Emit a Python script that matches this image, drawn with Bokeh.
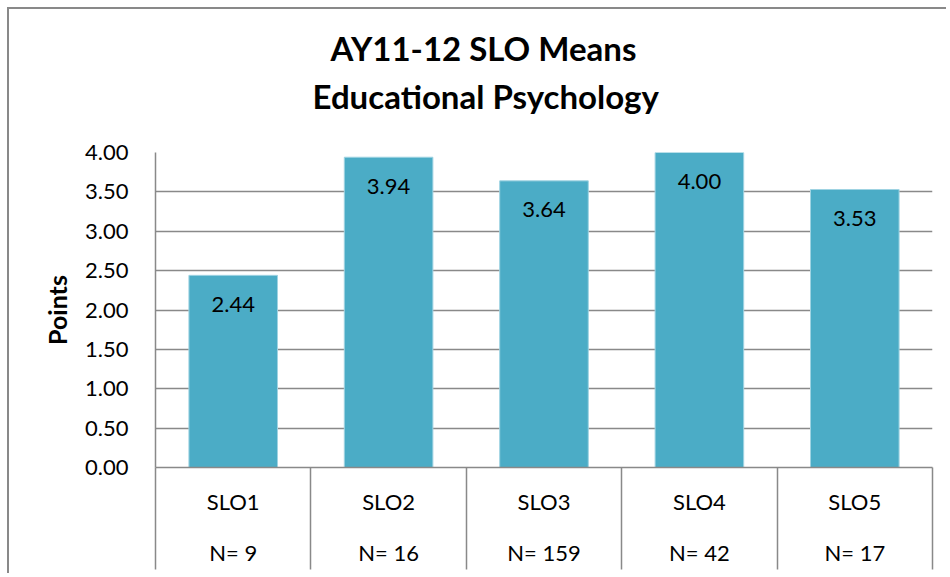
from bokeh.plotting import figure
from bokeh.models import Range1d, FixedTicker, Title, ColumnDataSource
from bokeh.core.properties import value
from bokeh.embed import file_html
from bokeh.resources import INLINE

# ---- data ----
categories = ["SLO1", "SLO2", "SLO3", "SLO4", "SLO5"]
means = [2.44, 3.94, 3.64, 4.00, 3.53]
counts = [9, 16, 159, 42, 17]
y_ticks = [0.0, 0.5, 1.0, 1.5, 2.0, 2.5, 3.0, 3.5, 4.0]
y_tick_labels = ["0.00", "0.50", "1.00", "1.50", "2.00", "2.50", "3.00", "3.50", "4.00"]
title_line1 = "AY11-12 SLO Means"
title_line2 = "Educational Psychology"
y_label = "Points"

FONT = "Lato"
GRAY = "#898989"
BAR = "#4BACC6"

positions = [i + 0.5 for i in range(len(categories))]
boundaries = list(range(len(categories) + 1))

src = ColumnDataSource(dict(
    x=positions, top=means,
    label=[f"{m:.2f}" for m in means],
))

p = figure(width=939, height=566, output_backend="svg", toolbar_location=None,
           x_range=Range1d(0, len(categories)), y_range=Range1d(0, 4),
           title=title_line1,
           min_border_left=146, min_border_right=16, min_border_bottom=108,
           min_border_top=143)
p.styles = {"margin-left": "7px", "margin-top": "7px",
            "border-left": f"2px solid {GRAY}", "border-top": f"2px solid {GRAY}"}
p.outline_line_color = None
p.background_fill_color = "white"
p.border_fill_color = "white"

# titles: p.title is the upper line, the added one sits next to the frame;
# left-aligned with offsets so both are centred on the whole chart box
p.title.text_font = FONT
p.title.text_font_size = "33px"
p.title.text_font_style = "bold"
p.title.text_color = "black"
p.title.align = "left"
p.title.offset = 175
p.title.standoff = -52
t2 = Title(text=title_line2, text_font=FONT, text_font_size="33px",
           text_font_style="bold", text_color="black", align="left",
           vertical_align="top", offset=157, standoff=69)
p.add_layout(t2, "above")

# bars
p.vbar(x="x", top="top", width=0.57, bottom=0, source=src,
       fill_color=BAR, line_color="#9fd3e2", line_width=1)
p.text(x="x", y="top", text="label", source=src,
       text_align="center", text_baseline="middle", y_offset=29,
       text_font=value(FONT), text_font_size="22px", text_color="black")

# grid
p.xgrid.grid_line_color = None
p.ygrid.grid_line_color = GRAY
p.ygrid.grid_line_width = 1.5
p.ygrid.ticker = FixedTicker(ticks=y_ticks)

# y axis
ya = p.yaxis[0]
ya.ticker = FixedTicker(ticks=y_ticks)
ya.major_label_overrides = {t: l for t, l in zip(y_ticks, y_tick_labels)}
ya.major_tick_line_color = None
ya.major_tick_out = 0
ya.major_tick_in = 0
ya.minor_tick_line_color = None
ya.axis_line_color = GRAY
ya.axis_line_width = 1.5
ya.major_label_standoff = 27
ya.major_label_text_font = FONT
ya.major_label_text_font_size = "22px"
ya.major_label_text_color = "black"
ya.axis_label = y_label
ya.axis_label_text_font = FONT
ya.axis_label_text_font_size = "25px"
ya.axis_label_text_font_style = "bold"
ya.axis_label_text_color = "black"
ya.axis_label_standoff = 10

# x axis drawn as a small table
xa = p.xaxis[0]
xa.ticker = FixedTicker(ticks=positions, minor_ticks=boundaries)
xa.major_label_overrides = {pos: f"{c}\n\nN= {n}" for pos, c, n in zip(positions, categories, counts)}
xa.major_tick_line_color = None
xa.major_tick_out = 0
xa.major_tick_in = 0
xa.minor_tick_line_color = GRAY
xa.minor_tick_line_width = 1.5
xa.minor_tick_out = 102
xa.minor_tick_in = 0
xa.axis_line_color = GRAY
xa.axis_line_width = 1.5
xa.major_label_standoff = -82
xa.major_label_text_line_height = 0.947
xa.major_label_text_font = FONT
xa.major_label_text_font_size = "22px"
xa.major_label_text_color = "black"

open("out.html", "w").write(file_html(p, INLINE))
